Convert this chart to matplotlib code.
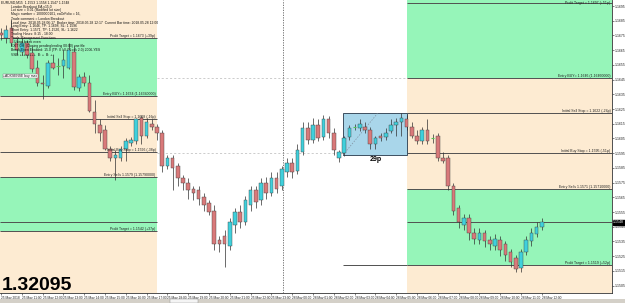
import matplotlib
matplotlib.use('Agg')
import matplotlib.pyplot as plt
from matplotlib.patches import Rectangle
import matplotlib.transforms as mtrans

plt.rcParams['font.family'] = ['Liberation Sans', 'DejaVu Sans']

# ---------------- data (EURUSD M15) ----------------
opens = [1.1677, 1.1673, 1.1680, 1.1670, 1.1664, 1.1670, 1.1663, 1.1653, 1.1643, 1.1641,
         1.1656, 1.1654, 1.1654, 1.1653, 1.1664, 1.1639, 1.1647, 1.1643, 1.1623, 1.1614,
         1.1611, 1.1598, 1.1592, 1.1592, 1.1598, 1.1602, 1.1603, 1.1619, 1.1607, 1.1615,
         1.1613, 1.1609, 1.1586, 1.1592, 1.1586, 1.1578, 1.1575, 1.1571, 1.1570, 1.1565,
         1.1561, 1.1556, 1.1536, 1.1539, 1.1532, 1.1546, 1.1555, 1.1548, 1.1560, 1.1570,
         1.1563, 1.1575, 1.1568, 1.1578, 1.1573, 1.1582, 1.1588, 1.1583, 1.1596, 1.1612,
         1.1604, 1.1614, 1.1606, 1.1618, 1.1609, 1.1592, 1.1595, 1.1606, 1.1613, 1.1612,
         1.1613, 1.1611, 1.1601, 1.1607, 1.1606, 1.1610, 1.1614, 1.1616, 1.1618, 1.1613,
         1.1607, 1.1603, 1.1611, 1.1605, 1.1607, 1.1592, 1.1592, 1.1573, 1.1558, 1.1546,
         1.1551, 1.1541, 1.1536, 1.1541, 1.1536, 1.1532, 1.1536, 1.1533, 1.1528, 1.1524,
         1.1517, 1.1528, 1.1535, 1.1540, 1.1545]
highs = [1.1680, 1.1682, 1.1686, 1.1673, 1.1673, 1.1672, 1.1668, 1.1658, 1.1648, 1.1658,
         1.1662, 1.1660, 1.1666, 1.1670, 1.1668, 1.1649, 1.1650, 1.1648, 1.1631, 1.1618,
         1.1614, 1.1600, 1.1597, 1.1600, 1.1605, 1.1606, 1.1619, 1.1621, 1.1619, 1.1618,
         1.1615, 1.1611, 1.1594, 1.1594, 1.1588, 1.1580, 1.1578, 1.1573, 1.1573, 1.1568,
         1.1563, 1.1560, 1.1539, 1.1543, 1.1551, 1.1558, 1.1560, 1.1566, 1.1573, 1.1573,
         1.1578, 1.1579, 1.1582, 1.1582, 1.1586, 1.1592, 1.1592, 1.1601, 1.1616, 1.1616,
         1.1619, 1.1618, 1.1621, 1.1620, 1.1612, 1.1597, 1.1607, 1.1614, 1.1615, 1.1618,
         1.1616, 1.1613, 1.1607, 1.1609, 1.1612, 1.1618, 1.1619, 1.1622, 1.1621, 1.1616,
         1.1611, 1.1613, 1.1618, 1.1608, 1.1609, 1.1596, 1.1594, 1.1575, 1.1560, 1.1554,
         1.1554, 1.1544, 1.1544, 1.1543, 1.1539, 1.1540, 1.1539, 1.1535, 1.1530, 1.1526,
         1.1530, 1.1539, 1.1544, 1.1548, 1.1551]
lows = [1.1672, 1.1670, 1.1668, 1.1662, 1.1662, 1.1660, 1.1650, 1.1641, 1.1632, 1.1639,
        1.1652, 1.1648, 1.1646, 1.1652, 1.1638, 1.1637, 1.1641, 1.1623, 1.1609, 1.1603,
        1.1597, 1.1590, 1.1577, 1.1590, 1.1590, 1.1600, 1.1601, 1.1601, 1.1605, 1.1611,
        1.1604, 1.1582, 1.1584, 1.1570, 1.1573, 1.1570, 1.1564, 1.1563, 1.1560, 1.1556,
        1.1553, 1.1529, 1.1528, 1.1518, 1.1529, 1.1541, 1.1544, 1.1546, 1.1556, 1.1558,
        1.1560, 1.1564, 1.1566, 1.1568, 1.1570, 1.1579, 1.1578, 1.1581, 1.1594, 1.1601,
        1.1602, 1.1603, 1.1604, 1.1605, 1.1594, 1.1589, 1.1593, 1.1604, 1.1611, 1.1610,
        1.1609, 1.1598, 1.1598, 1.1603, 1.1604, 1.1609, 1.1607, 1.1607, 1.1611, 1.1605,
        1.1601, 1.1601, 1.1601, 1.1602, 1.1590, 1.1588, 1.1570, 1.1553, 1.1544, 1.1543,
        1.1536, 1.1533, 1.1533, 1.1531, 1.1529, 1.1529, 1.1525, 1.1522, 1.1518, 1.1514,
        1.1514, 1.1526, 1.1532, 1.1538, 1.1543]
closes = [1.1675, 1.1679, 1.1670, 1.1665, 1.1670, 1.1662, 1.1652, 1.1643, 1.1642, 1.1656,
          1.1653, 1.1654, 1.1658, 1.1665, 1.1640, 1.1647, 1.1643, 1.1624, 1.1615, 1.1609,
          1.1598, 1.1592, 1.1594, 1.1598, 1.1603, 1.1604, 1.1618, 1.1607, 1.1616, 1.1613,
          1.1609, 1.1586, 1.1592, 1.1585, 1.1578, 1.1575, 1.1570, 1.1568, 1.1564, 1.1560,
          1.1555, 1.1533, 1.1533, 1.1533, 1.1548, 1.1555, 1.1548, 1.1563, 1.1570, 1.1562,
          1.1575, 1.1568, 1.1578, 1.1571, 1.1584, 1.1588, 1.1582, 1.1597, 1.1612, 1.1604,
          1.1614, 1.1605, 1.1618, 1.1609, 1.1597, 1.1596, 1.1605, 1.1612, 1.1613, 1.1615,
          1.1611, 1.1601, 1.1605, 1.1605, 1.1609, 1.1614, 1.1616, 1.1619, 1.1613, 1.1607,
          1.1603, 1.1611, 1.1603, 1.1605, 1.1592, 1.1590, 1.1573, 1.1556, 1.1548, 1.1551,
          1.1541, 1.1537, 1.1541, 1.1535, 1.1533, 1.1537, 1.1529, 1.1526, 1.1521, 1.1516,
          1.1528, 1.1536, 1.1541, 1.1545, 1.1548]

time_labels = ["25 May 2018", "25 May 11:00", "25 May 12:00", "25 May 13:00", "25 May 14:00",
               "25 May 15:00", "25 May 16:00", "25 May 17:00", "25 May 18:00", "25 May 19:00",
               "25 May 20:00", "25 May 21:00", "25 May 22:00", "25 May 23:00", "28 May 00:00",
               "28 May 01:00", "28 May 02:00", "28 May 03:00", "28 May 04:00", "28 May 05:00",
               "28 May 06:00", "28 May 07:00", "28 May 08:00", "28 May 09:00", "28 May 10:00",
               "28 May 11:00", "28 May 12:00"]
price_ticks = [1.1695, 1.1685, 1.1675, 1.1665, 1.1655, 1.1645, 1.1635, 1.1625, 1.1615, 1.1605,
               1.1595, 1.1585, 1.1575, 1.1565, 1.1555, 1.1545, 1.1535, 1.1525, 1.1515, 1.1505]
price_tick_labels = ["1.1695", "1.1685", "1.1675", "1.1665", "1.1655", "1.1645", "1.1635",
                     "1.1625", "1.1615", "1.1605", "1.1595", "1.1585", "1.1575", "1.1565",
                     "1.1555", "1.1545", "1.1535", "1.1525", "1.1515", "1.1505"]
current_price = 1.1548
current_price_label = "1.1548"
big_price_text = "1.32095"

# London breakout levels (left = previous session, right = current session)
left_levels = [1.1673, 1.1634, 1.1618, 1.1596, 1.1579, 1.1542]
left_level_labels = ["Profit Target = 1.1673 (+39p)", "Entry BUY= 1.1634 (1.16340000)",
                     "Initial Sell Stop = 1.1618 (-16p)", "Initial Buy Stop = 1.1596 (-38p)",
                     "Entry Sells 1.1579 (1.15790000)", "Profit Target = 1.1542 (+37p)"]
right_levels = [1.1697, 1.1646, 1.1622, 1.1595, 1.1571, 1.1519]
right_level_labels = ["Profit Target = 1.1697 (+51p)", "Entry BUY= 1.1646 (1.16460000)",
                      "Initial Sell Stop = 1.1622 (-24p)", "Initial Buy Stop = 1.1595 (-51p)",
                      "Entry Sells 1.1571 (1.15710000)", "Profit Target = 1.1519 (+52p)"]
box_high = 1.1622
box_low = 1.1594
box_label = "29p"

info_lines = ["EURUSD,M15  1.1553 1.1558 1.1547 1.1548",
              "London Breakout EA v15.0",
              "Lot size = 0.01 (Modified lot size)",
              "Magic number = 1000000101, eaOrFolio = 16,",
              "Trade comment = London Breakout",
              "Local time: 2018.05.28 06:17  Broker time: 2018.05.28 12:17  Current Bar time: 2018.05.28 12:00",
              "Long Entry: 1.1646, TP: 1.1698, SL: 1.1596",
              "Short Entry: 1.1571, TP: 1.1520, SL: 1.1622",
              "Trading Hours: 8:15 - 18:00",
              "Trade Management Functions",
              "   Using break even",
              "EXIT Off  (Closing pending/ending 00:00) one file",
              "Break-Even Enabled: 15.0 (TP: 0 / 0.7 Lock 2.0) 2006-YES",
              "VSB: ++++++++  B: +  B: ++"]

# ---------------- figure ----------------
W, H = 625, 303
fig = plt.figure(figsize=(W / 100, H / 100), dpi=100)
fig.patch.set_facecolor('white')
ax = fig.add_axes([0, 10 / H, 612 / W, 293 / H])
ax.set_facecolor('white')

n = len(opens)
xmin, xmax = -0.19, 117.5
ymin, ymax = 1.1500, 1.16991
ax.set_xlim(xmin, xmax)
ax.set_ylim(ymin, ymax)

BEIGE = '#fdebd2'
GREEN = '#96f5b9'
LINE = '#505050'

left_x0, left_x1 = xmin, 30.0
right_x0, right_x1 = 78.1, xmax

def band(x0, x1, y0, y1, c):
    ax.add_patch(Rectangle((x0, y0), x1 - x0, y1 - y0, facecolor=c, edgecolor='none', zorder=0))

# left panel bands
band(left_x0, left_x1, left_levels[0], ymax, BEIGE)
band(left_x0, left_x1, left_levels[1], left_levels[0], GREEN)
band(left_x0, left_x1, left_levels[4], left_levels[1], BEIGE)
band(left_x0, left_x1, left_levels[5], left_levels[4], GREEN)
band(left_x0, left_x1, ymin, left_levels[5], BEIGE)
# right panel bands
band(right_x0, right_x1, right_levels[1], ymax, GREEN)
band(right_x0, right_x1, right_levels[4], right_levels[1], BEIGE)
band(right_x0, right_x1, right_levels[5], right_levels[4], GREEN)
band(right_x0, right_x1, ymin, right_levels[5], BEIGE)

ax.hlines(left_levels + [current_price], left_x0, left_x1, color=LINE, lw=0.7, zorder=1)
ax.hlines(right_levels + [current_price], right_x0, right_x1, color=LINE, lw=0.7, zorder=1)
ax.hlines([right_levels[1], right_levels[3]], left_x1, right_x0, color='#b8b8b8', lw=0.5,
          linestyles=(0, (3, 3)), zorder=1)
ax.hlines([right_levels[5]], 65.8, right_x0, color=LINE, lw=0.7, zorder=1)

for lv, lab in zip(left_levels, left_level_labels):
    ax.text(left_x1 - 0.3, lv, lab, fontsize=2.5, ha='right', va='bottom', color='#222', zorder=5)
for lv, lab in zip(right_levels, right_level_labels):
    ax.text(right_x1 - 0.3, lv, lab, fontsize=2.5, ha='right',
            va='bottom' if lv < 1.169 else 'center', color='#222', zorder=5)

# period separator
ax.axvline(54.2, color='#606060', lw=0.6, ls=(0, (1.5, 1.5)), zorder=1)

# breakout box
ax.add_patch(Rectangle((65.8, box_low), right_x0 - 65.8, box_high - box_low,
                       facecolor='#a9d6ea', edgecolor='#3d4f60', lw=0.7, zorder=1.5))
ax.plot([65.8, 72.4], [box_low, box_high], color='#8090a0', lw=0.5, ls=(0, (2, 2)), zorder=1.6)
ax.text(72.0, box_low - 0.0001, box_label, fontsize=5, fontweight='bold', ha='center', va='top', zorder=5)

# candles
BULL = '#3fd0dc'
BEAR = '#d9797a'
for i in range(n):
    o, h, l, c = opens[i], highs[i], lows[i], closes[i]
    ax.vlines(i, l, h, color='#303030', lw=0.5, zorder=2)
    if abs(c - o) < 1e-9:
        ax.hlines(o, i - 0.35, i + 0.35, color='#55c455', lw=0.8, zorder=3)
    else:
        col = BULL if c > o else BEAR
        ax.add_patch(Rectangle((i - 0.34, min(o, c)), 0.68, abs(c - o), facecolor=col,
                               edgecolor='#404040', lw=0.3, zorder=3))

# axes styling
for s in ['top', 'left']:
    ax.spines[s].set_visible(False)
for s in ['bottom', 'right']:
    ax.spines[s].set_color('#333')
    ax.spines[s].set_linewidth(0.6)
ax.yaxis.tick_right()
ax.set_yticks(price_ticks)
ax.set_yticklabels(price_tick_labels)
ax.tick_params(axis='y', direction='out', length=1.5, width=0.4, labelsize=2.5, pad=0.6, colors='#222')
ax.set_xticks(list(range(0, 105, 4)))
ax.set_xticklabels(time_labels)
ax.tick_params(axis='x', direction='out', length=1.5, width=0.4, labelsize=2.3, pad=0.6, colors='#222')
for t in ax.get_xticklabels():
    t.set_ha('left')

# current price marker on axis
tr = mtrans.blended_transform_factory(ax.transAxes, ax.transData)
ax.text(1.002, current_price, current_price_label, transform=tr, fontsize=2.5, color='white',
        ha='left', va='center', clip_on=False, zorder=6,
        bbox=dict(facecolor='black', edgecolor='black', pad=0.4))

# info text block
for k, line in enumerate(info_lines):
    xpix = 1 if k == 0 else 11
    ypix = 2.5 + 4.0 * k
    fig.text(xpix / W, 1 - ypix / H, line, fontsize=2.4, ha='left', va='center', color='#111')
fig.text(3 / W, 1 - 76 / H, "+ADXSENSE buy max", fontsize=2.4, ha='left', va='center', color='#111',
         bbox=dict(facecolor='white', edgecolor='#777', lw=0.3, pad=0.3))

# big price
fig.text(2 / W, 1 - 290 / H, big_price_text, fontsize=14, fontweight='bold', ha='left',
         va='baseline', color='black')

# bottom tab strip
fig.patches.append(Rectangle((0, 0), 1, 4 / H, transform=fig.transFigure, facecolor='#d4d0c8',
                             edgecolor='none'))
fig.patches.append(Rectangle((170 / W, 0), 28 / W, 4 / H, transform=fig.transFigure,
                             facecolor='#f4f4f4', edgecolor='#888', lw=0.3))

fig.savefig('out.png', dpi=100)
